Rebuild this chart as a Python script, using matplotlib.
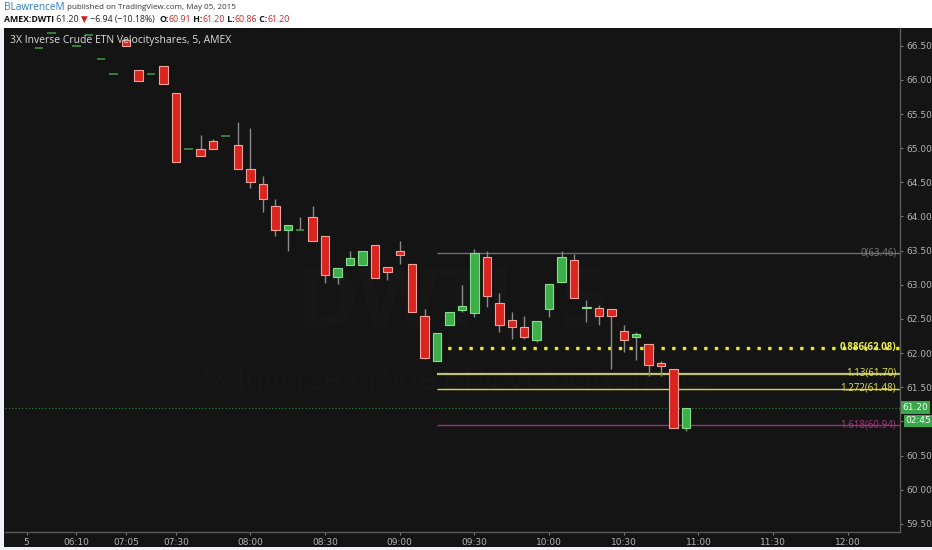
import matplotlib
matplotlib.use("Agg")
import matplotlib.pyplot as plt
from matplotlib.patches import Rectangle

# 5-minute bars (bar index on the x axis, as TradingView spaces them)
bar_idx = [0, 1, 3, 4, 5, 6, 7, 8, 9, 10, 11, 12, 13, 14, 15, 16, 17, 18, 19, 20,
           21, 22, 23, 24, 25, 26, 27, 28, 29, 30, 31, 32, 33, 34, 35, 36, 37, 38,
           39, 40, 41, 42, 43, 44, 45, 46, 47, 48, 49, 50, 51, 52]
opens = [66.47, 66.69, 66.50, 66.66, 66.30, 66.08, 66.59, 66.15, 66.09, 66.21, 65.81,
         64.99, 64.99, 65.10, 65.18, 65.04, 64.70, 64.48, 64.15, 63.80, 63.80, 63.99,
         63.71, 63.12, 63.29, 63.29, 63.58, 63.26, 63.50, 63.30, 62.54, 61.88, 62.41,
         62.63, 62.58, 63.40, 62.74, 62.48, 62.38, 62.19, 62.64, 63.04, 63.36, 62.66,
         62.66, 62.64, 62.32, 62.23, 62.13, 61.85, 61.77, 60.91]
highs = [66.47, 66.69, 66.50, 66.66, 66.30, 66.08, 66.59, 66.15, 66.09, 66.21, 65.81,
         64.99, 65.20, 65.14, 65.18, 65.39, 65.29, 64.59, 64.26, 63.87, 63.99, 64.15,
         63.71, 63.24, 63.50, 63.50, 63.58, 63.26, 63.64, 63.30, 62.64, 62.29, 62.60,
         63.00, 63.53, 63.49, 62.88, 62.60, 62.54, 62.47, 63.01, 63.50, 63.45, 62.77,
         62.70, 62.64, 62.41, 62.31, 62.13, 61.88, 61.77, 61.20]
lows = [66.47, 66.69, 66.50, 66.66, 66.30, 66.08, 66.49, 65.99, 66.09, 65.94, 64.80,
        64.99, 64.88, 64.99, 65.18, 64.69, 64.41, 64.06, 63.71, 63.50, 63.80, 63.64,
        63.02, 63.01, 63.29, 63.29, 63.10, 63.07, 63.30, 62.60, 61.91, 61.88, 62.41,
        62.60, 62.53, 62.67, 62.31, 62.20, 62.20, 62.16, 62.53, 63.04, 62.80, 62.45,
        62.41, 61.77, 62.01, 61.90, 61.66, 61.66, 60.91, 60.86]
closes = [66.47, 66.69, 66.50, 66.66, 66.30, 66.08, 66.49, 65.99, 66.09, 65.94, 64.80,
          64.99, 64.89, 64.99, 65.18, 64.69, 64.50, 64.25, 63.80, 63.87, 63.80, 63.64,
          63.15, 63.24, 63.39, 63.50, 63.10, 63.18, 63.43, 62.60, 61.93, 62.29, 62.60,
          62.69, 63.46, 62.83, 62.41, 62.38, 62.23, 62.47, 63.01, 63.40, 62.80, 62.67,
          62.55, 62.54, 62.19, 62.28, 61.82, 61.81, 60.91, 61.20]

tick_pos = [-1, 3, 7, 11, 17, 23, 29, 35, 41, 47, 53, 59, 65]
tick_labels = ["5", "06:10", "07:05", "07:30", "08:00", "08:30", "09:00", "09:30",
               "10:00", "10:30", "11:00", "11:30", "12:00"]

fib_levels = ["0", "0.886", "1.13", "1.272", "1.618"]
fib_prices = [63.46, 62.08, 61.70, 61.48, 60.94]
fib_start = 32
last_price = 61.20
countdown = "02:45"

BG = "#141414"
UP, UP_EDGE = "#3cae4a", "#86dd8a"
DN, DN_EDGE = "#da2420", "#f3a49a"
NARROW = ["Liberation Sans Narrow", "DejaVu Sans"]
HEAD = ["Open Sans", "DejaVu Sans"]

fig = plt.figure(figsize=(9.32, 5.5), dpi=100)
fig.patch.set_facecolor("#eef1f5")
# white header strip and dark chart panel
fig.patches.append(Rectangle((0, 522 / 550), 1, 28 / 550, transform=fig.transFigure,
                             facecolor="white", edgecolor="none", zorder=0))
fig.patches.append(Rectangle((4 / 932, 3 / 550), 928 / 932, 519 / 550, transform=fig.transFigure,
                             facecolor=BG, edgecolor="none", zorder=0))

ax = fig.add_axes([5 / 932, 18 / 550, 895 / 932, 504 / 550])
ax.set_zorder(2)
ax.set_facecolor(BG)
ax.set_xlim(-2.73, 69.2)
ax.set_ylim(59.38, 66.76)

# faint symbol watermark
ax.text(0.5, 0.45, "DWTI, 5", transform=ax.transAxes, ha="center", va="center",
        fontsize=60, color="#171717", family="Open Sans", fontweight="bold", zorder=0)
ax.text(0.5, 0.3, "3X Inverse Crude ETN Velocityshares", transform=ax.transAxes,
        ha="center", va="center", fontsize=22, color="#171717", family="Open Sans", zorder=0)

w = 0.68
for i, o, h, l, c in zip(bar_idx, opens, highs, lows, closes):
    if h > l:
        ax.vlines(i, l, h, color="#8a8a8a", lw=1, zorder=2)
    if o == c:
        ax.hlines(o, i - w / 2, i + w / 2, color="#3f8f45", lw=1.2, zorder=3)
        continue
    up = c > o
    ax.add_patch(Rectangle((i - w / 2, min(o, c)), w, abs(c - o),
                           facecolor=UP if up else DN, edgecolor=UP_EDGE if up else DN_EDGE,
                           lw=0.8, zorder=3))

# fibonacci extension lines
fib_styles = [dict(color="#6e6e6e", lw=1, ls="-"),
              dict(color="#e8e82a", lw=2.4, ls=(0, (1, 2.2))),
              dict(color="#c4c46a", lw=1.6, ls="-"),
              dict(color="#d8d838", lw=1, ls="-"),
              dict(color="#a02d7c", lw=1, ls="-")]
fib_text_col = ["#7a7a7a", "#eeee50", "#e4e450", "#e4e450", "#a8367e"]
for lvl, p, st, tc in zip(fib_levels, fib_prices, fib_styles, fib_text_col):
    ax.hlines(p, fib_start, 69.2, zorder=1, **st)
    ax.text(68.9, p + 0.005, f"{lvl}({p:.2f})", ha="right", va="center", fontsize=7,
            color=tc, family="Open Sans",
            fontweight="bold" if lvl == "0.886" else "normal", zorder=4)

# last price line
ax.axhline(last_price, color="#2f8a3c", lw=0.8, ls=(0, (1, 2)), zorder=1)

ax.text(0.006, 0.975, "3X Inverse Crude ETN Velocityshares, 5, AMEX", transform=ax.transAxes,
        ha="left", va="center", fontsize=7.5, color="#dcdcdc", family="Open Sans", zorder=5)

# axes styling
for s in ["left", "top"]:
    ax.spines[s].set_visible(False)
for s in ["right", "bottom"]:
    ax.spines[s].set_color("#5a5a5a")
    ax.spines[s].set_linewidth(1)
ax.yaxis.tick_right()
ax.set_yticks([59.5 + 0.5 * k for k in range(15)])
ax.set_yticklabels([f"{59.5 + 0.5 * k:.2f}" for k in range(15)], family=NARROW)
ax.set_xticks(tick_pos)
ax.set_xticklabels(tick_labels, family=NARROW)
ax.tick_params(axis="both", colors="#7a7a7a", labelcolor="#b4b4b4", labelsize=6.5,
               length=2.5, width=0.8, pad=2)

# price and countdown badges on the axis
ax.text(1.003, last_price, f"{last_price:.2f}", transform=ax.get_yaxis_transform(),
        ha="left", va="center", fontsize=6.5, color="white", family=NARROW, zorder=6,
        bbox=dict(boxstyle="square,pad=0.2", facecolor="#3aa84a", edgecolor="none"))
ax.text(1.006, last_price - 0.19, countdown, transform=ax.get_yaxis_transform(),
        ha="left", va="center", fontsize=6.5, color="white", family=NARROW, zorder=6,
        bbox=dict(boxstyle="square,pad=0.15", facecolor="#3aa84a", edgecolor="none"))

# header rows with mixed colours, laid out piece after piece
renderer = fig.canvas.get_renderer()


def put_row(pieces, x, y):
    for s, color, weight, size in pieces:
        t = fig.text(x, y, s, color=color, fontweight=weight, fontsize=size,
                     family=HEAD, va="center", ha="left")
        x += t.get_window_extent(renderer).width / fig.bbox.width


put_row([("BLawrenceM", "#2d7ec4", "normal", 7.2),
         (" published on TradingView.com, May 05, 2015", "#333333", "normal", 5.8)],
        4 / 932, 1 - 7.5 / 550)
put_row([("AMEX:DWTI", "#111111", "bold", 6.3),
         (" 61.20 ", "#222222", "normal", 6.3),
         ("▼", "#d32020", "normal", 6.3),
         (" \u22126.94 (\u221210.18%)  ", "#222222", "normal", 6.3),
         ("O:", "#111111", "bold", 6.3), ("60.91", "#c62828", "normal", 6.3),
         (" H:", "#111111", "bold", 6.3), ("61.20", "#c62828", "normal", 6.3),
         (" L:", "#111111", "bold", 6.3), ("60.86", "#c62828", "normal", 6.3),
         (" C:", "#111111", "bold", 6.3), ("61.20", "#c62828", "normal", 6.3)],
        4 / 932, 1 - 19.5 / 550)

fig.savefig("out.png", dpi=100, facecolor=fig.get_facecolor())
